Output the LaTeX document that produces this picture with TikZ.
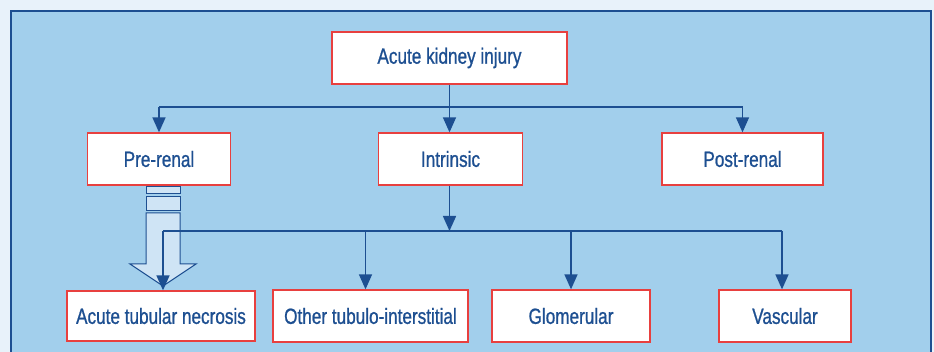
\documentclass[tikz,border=0pt]{standalone}
\usepackage{fontspec}
\setmainfont{Liberation Sans}[FakeStretch=0.78, FakeBold=0.9]
\usepackage{xcolor}
\usetikzlibrary{arrows.meta}
\definecolor{akiblue}{HTML}{1D4F91}
\definecolor{akired}{HTML}{E8403F}
\definecolor{panelblue}{HTML}{A2CFEC}
\definecolor{paleblue}{HTML}{E8F2FA}
\definecolor{shaftblue}{HTML}{CFE4F5}

\begin{document}
\begin{tikzpicture}[x=1pt, y=-1pt,
	box/.style={draw=akired, line width=1.3pt, fill=white, minimum height=52pt,
		inner sep=0pt, text=akiblue, font=\fontsize{22}{24}\selectfont},
	link/.style={draw=akiblue, line width=1.5pt},
	tip/.style={link, -{Triangle[length=15pt, width=13pt]}}]
		% 背景
		\fill [paleblue] (0, 0) rectangle (934, 352);
		\useasboundingbox (0, 0) rectangle (934, 352);
		\filldraw [fill=panelblue, draw=akiblue, line width=1.6pt] (11, 11) rectangle (931, 362);
		% 方框
		\node [box, minimum width=235pt] (aki) at (449.5, 58) {Acute kidney injury};
		\node [box, minimum width=143pt] (pre) at (159, 159) {Pre-renal};
		\node [box, minimum width=144pt] (intr) at (450.5, 159) {Intrinsic};
		\node [box, minimum width=161pt] (post) at (742.5, 159) {Post-renal};
		\node [box, minimum width=188pt, minimum height=50pt] (atn) at (161, 316) {Acute tubular necrosis};
		\node [box, minimum width=195pt] (oti) at (370.5, 316) {Other tubulo-interstitial};
		\node [box, minimum width=158pt] (glom) at (571, 316) {Glomerular};
		\node [box, minimum width=132pt] (vasc) at (785, 316) {Vascular};
		% 空心箭头
		\filldraw [fill=shaftblue, draw=akiblue, line width=1pt] (146, 187) rectangle (180, 194);
		\filldraw [fill=shaftblue, draw=akiblue, line width=1pt] (146, 197) rectangle (180, 211);
		\filldraw [fill=shaftblue, draw=akiblue, line width=1pt]
		(146, 213) -- (180, 213) -- (180, 264) -- (196, 264) --
		(163, 286) -- (130, 264) -- (146, 264) -- cycle;
		% 上层连线
		\coordinate (split) at (aki.south |- 0, 107);
		\draw [link] (aki.south) -- (split);
		\draw [link] (pre.north |- split) -- (post.north |- split);
		\draw [tip] (pre.north |- split) -- (pre.north);
		\draw [tip] (split) -- (aki.south |- intr.north);
		\draw [tip] (post.north |- split) -- (post.north);
		% 下层连线
		\coordinate (busL) at (163, 231);
		\coordinate (busR) at (782, 231);
		\draw [tip] (aki.south |- intr.south) -- (aki.south |- busL);
		\draw [link] (busL) -- (busR);
		\draw [tip] (busL) -- (busL |- atn.north);
		\draw [tip] ([xshift=-5pt]oti.north |- busL) -- ([xshift=-5pt]oti.north);
		\draw [tip] (glom.north |- busL) -- (glom.north);
		\draw [tip] (busR) -- (busR |- vasc.north);
	\end{tikzpicture}
\end{document}
